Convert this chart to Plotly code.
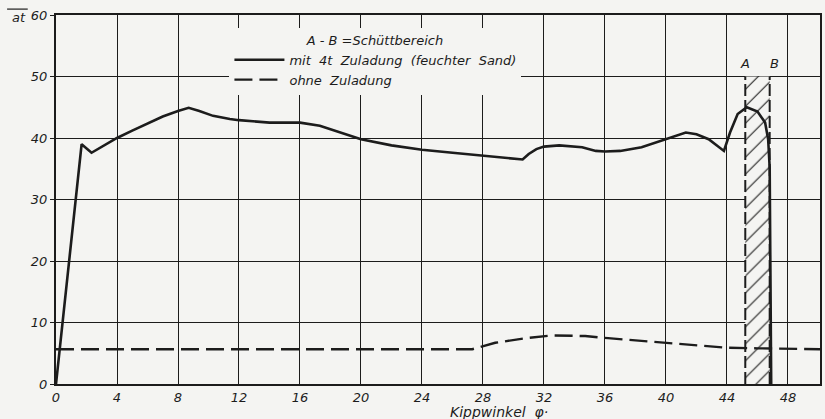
import plotly.graph_objects as go

# Data
x_mit = [0, 1.68, 2.33, 4.0, 5.0, 6.0, 7.0, 8.0, 8.7, 9.4, 10.3, 11.4, 12.0, 14.0, 16.0, 17.3, 18.5, 20.0,
         22.0, 24.0, 26.0, 28.0, 30.0, 30.6, 31.0, 31.5, 32.0, 33.0, 34.5, 35.4, 36.0, 37.0, 38.4,
         40.0, 41.3, 42.0, 42.8, 43.8, 44.2, 44.7, 45.3, 46.0, 46.5, 46.7, 46.8, 46.9]
y_mit = [0, 39.0, 37.6, 40.0, 41.2, 42.4, 43.5, 44.4, 44.9, 44.4, 43.6, 43.1, 42.9, 42.5, 42.5, 42.0, 41.0, 39.8,
         38.8, 38.1, 37.6, 37.1, 36.7, 36.5, 37.4, 38.2, 38.6, 38.8, 38.5, 37.9, 37.8, 37.9, 38.5,
         39.8, 40.9, 40.6, 39.8, 37.9, 40.9, 43.9, 45.0, 44.3, 42.5, 39.8, 35.2, 0]

x_ohne = [0, 27.3, 28.8, 30.8, 32.5, 34.7, 36.2, 40.0, 41.9, 44.0, 46.0, 50.1]
y_ohne = [5.66, 5.66, 6.7, 7.45, 7.9, 7.8, 7.45, 6.7, 6.25, 5.9, 5.8, 5.66]

# Schüttbereich A-B
x_A = 45.2
x_B = 46.8
y_top = 50

x_ticks = list(range(0, 49, 4))
y_ticks = list(range(0, 61, 10))

ink = "#1c1c1c"
paper = "#f4f4f2"
font_family = "DejaVu Sans"

fig = go.Figure()

# hatched region
fig.add_trace(go.Scatter(
    x=[x_A, x_B, x_B, x_A, x_A], y=[0, 0, y_top, y_top, 0],
    fill="toself", mode="lines", line=dict(width=0, color=ink),
    fillpattern=dict(shape="/", size=12, solidity=0.09, fgcolor=ink, bgcolor=paper, fgopacity=1),
    fillcolor=paper, showlegend=False, hoverinfo="skip"))

# boundary lines A and B
fig.add_trace(go.Scatter(x=[x_A, x_A], y=[0, y_top], mode="lines",
                         line=dict(color=ink, width=2, dash="12px,4px"), showlegend=False))
fig.add_trace(go.Scatter(x=[x_B, x_B], y=[0, y_top], mode="lines",
                         line=dict(color=ink, width=2, dash="12px,4px"), showlegend=False))

fig.add_trace(go.Scatter(x=x_mit, y=y_mit, mode="lines",
                         line=dict(color=ink, width=2.6),
                         name="mit  4t  Zuladung  (feuchter  Sand)"))
fig.add_trace(go.Scatter(x=x_ohne, y=y_ohne, mode="lines",
                         line=dict(color=ink, width=2.4, dash="18px,7px"),
                         name="ohne  Zuladung"))

fig.add_annotation(x=x_A, y=50.5, text="A", showarrow=False, xanchor="center", yanchor="bottom",
                   font=dict(size=13, color=ink, family=font_family, style="italic"))
fig.add_annotation(x=x_B + 0.3, y=50.5, text="B", showarrow=False, xanchor="center", yanchor="bottom",
                   font=dict(size=13, color=ink, family=font_family, style="italic"))

# axis unit label
fig.add_annotation(xref="paper", yref="paper", x=-0.036, y=0.994, text="at", showarrow=False,
                   xanchor="right", yanchor="middle",
                   font=dict(size=13, color=ink, family=font_family, style="italic"))
fig.add_shape(type="line", xref="paper", yref="paper", x0=-0.064, x1=-0.037, y0=1.016, y1=1.016,
              line=dict(color=ink, width=1.2))

fig.add_annotation(xref="paper", yref="paper", x=0.58, y=-0.05, text="Kippwinkel  φ·",
                   showarrow=False, xanchor="center", yanchor="top",
                   font=dict(size=14, color=ink, family=font_family, style="italic"))

fig.update_layout(
    width=825, height=419,
    margin=dict(l=56, r=3, t=15, b=35),
    paper_bgcolor=paper, plot_bgcolor=paper,
    font=dict(family=font_family, size=13, color=ink),
    legend=dict(
        x=0.227, y=0.965, xanchor="left", yanchor="top",
        bgcolor=paper, borderwidth=0,
        title=dict(text="A - B =Schüttbereich", side="top center",
                   font=dict(size=13, family=font_family, style="italic", color=ink)),
        font=dict(size=13, family=font_family, style="italic", color=ink),
        itemwidth=50, tracegroupgap=0,
    ),
)

fig.update_xaxes(range=[0, 50.1], tickvals=x_ticks, ticktext=[str(v) for v in x_ticks],
                 showgrid=True, gridcolor=ink, gridwidth=1.1, zeroline=False,
                 showline=True, linecolor=ink, linewidth=2, mirror=True,
                 ticks="", tickfont=dict(size=13, family=font_family, style="italic", color=ink))
fig.update_yaxes(range=[0, 60], tickvals=y_ticks, ticktext=[str(v) for v in y_ticks],
                 showgrid=True, gridcolor=ink, gridwidth=1.1, zeroline=False,
                 showline=True, linecolor=ink, linewidth=2, mirror=True,
                 ticks="outside", ticklen=4, tickcolor=ink,
                 tickfont=dict(size=13, family=font_family, style="italic", color=ink))

fig.write_html("out.html", config={"displayModeBar": False},
               post_script="document.body.style.margin='0';document.body.style.background='" + paper + "';")
